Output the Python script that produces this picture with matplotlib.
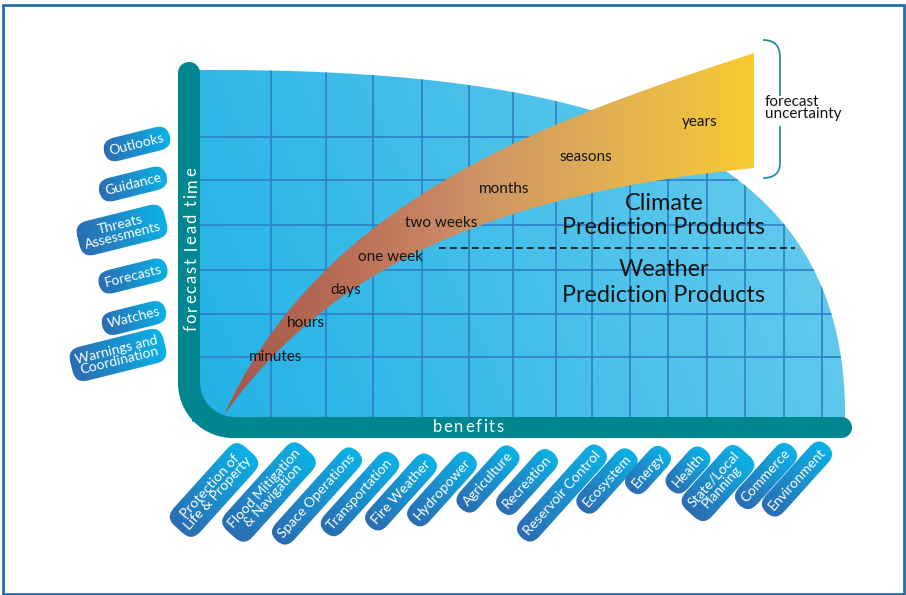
import numpy as np
import matplotlib
matplotlib.use('Agg')
import matplotlib.pyplot as plt
from matplotlib.path import Path
from matplotlib.patches import PathPatch, Rectangle
from matplotlib.colors import LinearSegmentedColormap, to_rgb
from matplotlib.font_manager import FontProperties

plt.rcParams['font.family'] = ['Lato', 'DejaVu Sans']

# ---------------- content ----------------
lead_times = ["minutes", "hours", "days", "one week", "two weeks",
              "months", "seasons", "years"]
product_types = ["Outlooks", "Guidance", "Threats\nAssessments", "Forecasts",
                 "Watches", "Warnings and\nCoordination"]
benefit_areas = ["Protection of\nLife & Property", "Flood Mitigation\n& Navigation",
                 "Space Operations", "Transportation", "Fire Weather", "Hydropower",
                 "Agriculture", "Recreation", "Reservoir Control", "Ecosystem",
                 "Energy", "Health", "State/Local\nPlanning", "Commerce", "Environment"]
zone_labels = ["Climate\nPrediction Products", "Weather\nPrediction Products"]
axis_titles = ["forecast lead time", "benefits"]
uncertainty_label = "forecast\nuncertainty"

# ---------------- layout (pixel positions) ----------------
lead_xy = [(276, 357), (306, 323), (346, 290), (391, 257), (441, 223),
           (504, 189), (586, 157), (700, 122)]
product_xy = [(137, 144), (133, 184), (122, 230), (133, 276), (134, 318), (118, 355)]
benefit_xy = [(214, 490), (269, 492), (317, 496), (360, 494), (401, 492), (442, 489),
              (488, 479), (527, 482), (562, 493), (607, 481), (648, 470), (688, 470),
              (718, 483), (766, 476), (797, 479)]
grid_x = [271, 326, 373, 422, 469, 513, 556, 592, 630, 668, 707, 745, 784, 822]
grid_y = [137, 179.5, 225, 270, 314, 356.5]

W, H = 906, 595
fig = plt.figure(figsize=(W / 100, H / 100), dpi=100)
ax = fig.add_axes([0, 0, 1, 1])
ax.set_xlim(0, W)
ax.set_ylim(H, 0)
ax.axis('off')

TEAL = '#00868f'


def bezier(p0, p1, p2, p3, n=200):
    t = np.linspace(0, 1, n)[:, None]
    p0, p1, p2, p3 = map(np.asarray, (p0, p1, p2, p3))
    return (1 - t) ** 3 * p0 + 3 * (1 - t) ** 2 * t * p1 + 3 * (1 - t) * t ** 2 * p2 + t ** 3 * p3


def arc(cx, cy, r, a0, a1, n=40):
    a = np.radians(np.linspace(a0, a1, n))
    return np.column_stack([cx + r * np.cos(a), cy + r * np.sin(a)])


# ---------------- blue quarter region ----------------
top = bezier((200, 70), (600, 68), (848, 145), (845, 419))
blue_v = np.vstack([[(192, 422), (192, 70)], top, [(845, 422)]])
blue_patch = PathPatch(Path(blue_v, closed=False), transform=ax.transData,
                       fc='none', ec='none')
ax.add_patch(blue_patch)
gx = np.linspace(190, 850, 330)
gy = np.linspace(60, 425, 200)
GX, GY = np.meshgrid(gx, gy)
u = np.clip(0.8 * (GX - 200) / 640 + 0.2 * (417 - GY) / 350, 0, 1)[..., None]
c0 = np.array(to_rgb('#22b2e5'))
c1 = np.array(to_rgb('#6bcdee'))
img = c0 * (1 - u) + c1 * u
im = ax.imshow(img, extent=(190, 850, 425, 60), origin='upper', zorder=1,
               interpolation='bilinear', aspect='auto')
im.set_clip_path(blue_patch)

for gxv in grid_x:
    ln, = ax.plot([gxv, gxv], [40, 425], color='#2f7fc4', lw=1.2, zorder=2)
    ln.set_clip_path(blue_patch)
for gyv in grid_y:
    ln, = ax.plot([190, 860], [gyv, gyv], color='#2f7fc4', lw=1.2, zorder=2)
    ln.set_clip_path(blue_patch)

# ---------------- forecast band ----------------
P0 = (224, 415)
upper = bezier(P0, (324, 195), (554, 119), (754, 53))
lower = bezier(P0, (334, 261), (504, 193), (754, 168))
band_v = np.vstack([upper, lower[::-1]])
band_patch = PathPatch(Path(band_v, closed=False), transform=ax.transData,
                       fc='none', ec='none')
ax.add_patch(band_patch)
band_cmap = LinearSegmentedColormap.from_list('band', [
    (0.0, '#a5574b'), (0.23, '#b96e56'), (0.41, '#c88764'), (0.53, '#d19a62'),
    (0.68, '#dcab58'), (0.9, '#efc040'), (1.0, '#f8ca2e')])
bx = np.linspace(0, 1, 400)[None, :].repeat(2, axis=0)
bim = ax.imshow(bx, cmap=band_cmap, extent=(224, 754, 416, 50), origin='upper',
                zorder=3, aspect='auto', interpolation='bilinear')
bim.set_clip_path(band_patch)

# ---------------- teal L frame ----------------
x0, x1, yb0, yb1, ytop, xr = 178, 200, 417, 438, 62, 852
Ro, Ri = 55, 35
rc = (yb1 - yb0) / 2
frame = np.vstack([
    [(x0, ytop + 11)],
    arc(x0 + Ro, yb1 - Ro, Ro, 180, 90),
    arc(xr - rc, (yb0 + yb1) / 2, rc, 90, -90),
    arc(x1 + Ri, yb0 - Ri, Ri, 90, 180),
    [(x1, ytop + 11)],
    arc((x0 + x1) / 2, ytop + 11, (x1 - x0) / 2, 0, -180),
])
ax.fill(frame[:, 0], frame[:, 1], color=TEAL, zorder=4, lw=0)

# ---------------- letter-spaced white titles ----------------
renderer = fig.canvas.get_renderer()


def spaced_text(x, y, s, spacing, angle, size, **kw):
    fp = FontProperties(family=['Lato', 'DejaVu Sans'], size=size)
    ref = renderer.get_text_width_height_descent('|', fp, ismath=False)[0]
    pos = [renderer.get_text_width_height_descent(s[:i] + '|', fp, ismath=False)[0] - ref
           for i in range(len(s))]
    wl = renderer.get_text_width_height_descent(s[-1], fp, ismath=False)[0]
    L = pos[-1] + wl + spacing * (len(s) - 1)
    a = np.radians(angle)
    for i, ch in enumerate(s):
        o = pos[i] + spacing * i - L / 2
        ax.text(x + o * np.cos(a), y - o * np.sin(a), ch, rotation=angle,
                rotation_mode='anchor', ha='left', va='baseline',
                fontproperties=fp, **kw)


spaced_text(196.5, 249, axis_titles[0], 1.9, 90, 12, color='white', zorder=7)
spaced_text(468, 432.5, axis_titles[1], 1.6, 0, 12, color='white', zorder=7)

# ---------------- labels on band ----------------
for lab, (x, y) in zip(lead_times, lead_xy):
    ax.text(x, y, lab, ha='center', va='center', fontsize=11, color='#141414', zorder=8)

# ---------------- zone labels & dashed divider ----------------
ax.plot([439, 795], [247.7, 247.7], color='#111111', lw=1.2, dashes=(4, 2.6), zorder=8)
zone_y = [(203, 228), (269, 295)]
for lab, ys in zip(zone_labels, zone_y):
    for line, yy in zip(lab.split('\n'), ys):
        ax.text(664, yy, line, ha='center', va='center', fontsize=16.8,
                color='#141414', zorder=8)

# ---------------- uncertainty brace ----------------
bc = '#2a8e9e'
brace_top = Path([(763, 40), (780, 40), (780, 57), (780, 96)],
                 [Path.MOVETO, Path.CURVE3, Path.CURVE3, Path.LINETO])
brace_bot = Path([(780, 126), (780, 163), (780, 178), (763, 178)],
                 [Path.MOVETO, Path.LINETO, Path.CURVE3, Path.CURVE3])
for bp in (brace_top, brace_bot):
    ax.add_patch(PathPatch(bp, fc='none', ec=bc, lw=1.3, zorder=8))
ax.text(765, 108, uncertainty_label, ha='left', va='center', fontsize=11,
        color='#141414', linespacing=0.9, zorder=8)

# ---------------- pills ----------------
pills = []
for lab, (x, y) in zip(product_types, product_xy):
    t = ax.text(x, y, lab, rotation=14, rotation_mode='anchor', ha='center',
                va='center', color='white', fontsize=10, linespacing=0.92, zorder=11,
                bbox=dict(boxstyle='round,pad=0.42,rounding_size=0.9', fc='#1c90d0', ec='none'))
    pills.append((t, 14))
for lab, (x, y) in zip(benefit_areas, benefit_xy):
    t = ax.text(x, y, lab, rotation=48, rotation_mode='anchor', ha='center',
                va='center', color='white', fontsize=10, linespacing=0.92, zorder=11,
                bbox=dict(boxstyle='round,pad=0.45,rounding_size=0.9', fc='#1c90d0', ec='none'))
    pills.append((t, 48))

fig.canvas.draw()
dark = np.array(to_rgb('#2b6cb2'))
light = np.array(to_rgb('#0bb2e6'))
inv = ax.transData.inverted()
for t, ang in pills:
    bp = t.get_bbox_patch()
    path = bp.get_path().transformed(bp.get_transform())
    verts = inv.transform(path.vertices)
    pp = PathPatch(Path(verts, path.codes), transform=ax.transData, fc='none', ec='none')
    ax.add_patch(pp)
    xmn, ymn = verts.min(axis=0) - 1
    xmx, ymx = verts.max(axis=0) + 1
    X, Y = np.meshgrid(np.linspace(xmn, xmx, 80), np.linspace(ymn, ymx, 80))
    a = np.radians(ang)
    proj = X * np.cos(a) - Y * np.sin(a)
    pv = verts[:, 0] * np.cos(a) - verts[:, 1] * np.sin(a)
    f = np.clip((proj - pv.min()) / (pv.max() - pv.min()), 0, 1)[..., None]
    g = dark * (1 - f) + light * f
    gi = ax.imshow(g, extent=(xmn, xmx, ymx, ymn), origin='upper', zorder=10,
                   aspect='auto', interpolation='bilinear')
    gi.set_clip_path(pp)
    bp.set_visible(False)

# ---------------- outer border ----------------
ax.add_patch(Rectangle((3, 4.5), 901, 589.5, fill=False, ec='#1d67ad', lw=1.9, zorder=20))
ax.set_xlim(0, W)
ax.set_ylim(H, 0)

fig.savefig('out.png', dpi=100)
